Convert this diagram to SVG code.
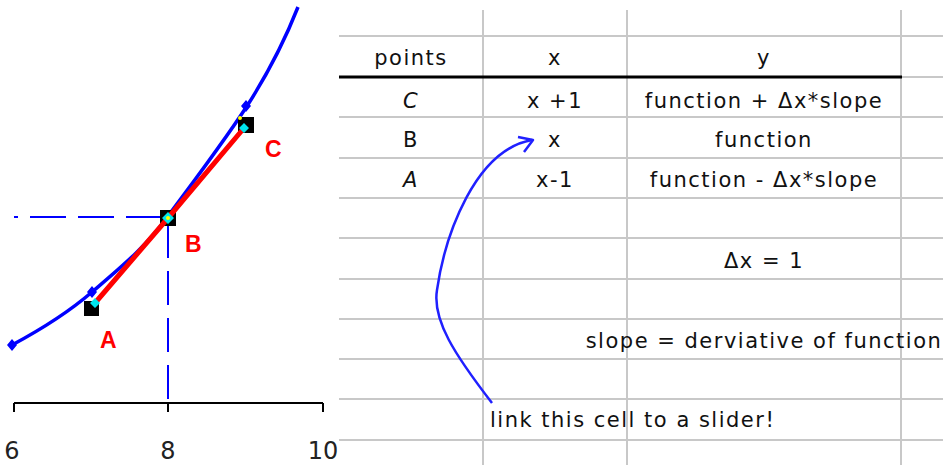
<svg xmlns="http://www.w3.org/2000/svg" width="943" height="465" viewBox="0 0 943 465">
<style>
.grid{stroke:#c8c8c8;stroke-width:2;fill:none}
.t{font-family:"DejaVu Sans",sans-serif;font-size:21px;letter-spacing:1.5px;fill:#111;text-anchor:middle}
.tick{font-family:"DejaVu Sans",sans-serif;font-size:24px;fill:#222;text-anchor:middle}
.pl{font-family:"Liberation Sans",Arial,sans-serif;font-size:23px;font-weight:bold;fill:#ff0000}
.dash{stroke:#0000ff;stroke-width:2;stroke-dasharray:36 12;fill:none}
.sq{fill:#000}
.cy{fill:#00e5ee}
</style>
<rect width="943" height="465" fill="#fff"/>
<g id="grid">
<path class="grid" d="M339 36H943M339 77H943M339 117H943M339 158H943M339 198H943M339 238H943M339 279H943M339 319H943M339 359H943M339 399H943M339 440H943"/>
<path class="grid" d="M483 10V465M627 10V465M901 10V465"/>
<line x1="339" y1="77" x2="902" y2="77" stroke="#000" stroke-width="3"/>
</g>
<g id="table-text">
<text class="t" x="411" y="65">points</text>
<text class="t" x="555" y="65">x</text>
<text class="t" x="764" y="65">y</text>
<text class="t" x="411" y="108" font-style="italic">C</text>
<text class="t" x="555" y="108">x +1</text>
<text class="t" x="764" y="108">function + Δx*slope</text>
<text class="t" x="411" y="147">B</text>
<text class="t" x="555" y="147">x</text>
<text class="t" x="764" y="147">function</text>
<text class="t" x="411" y="187" font-style="italic">A</text>
<text class="t" x="555" y="187">x-1</text>
<text class="t" x="764" y="187">function - Δx*slope</text>
<text class="t" x="764" y="268">Δx = 1</text>
<text class="t" x="764" y="348">slope = derviative of function</text>
<text class="t" x="490" y="427" style="text-anchor:start">link this cell to a slider!</text>
</g>
<g id="axis">
<path d="M14 403H323M14 403V412M168 403V412M323 403V412" stroke="#000" stroke-width="2" fill="none"/>
<text class="tick" x="12" y="459">6</text>
<text class="tick" x="168" y="459">8</text>
<text class="tick" x="323" y="459">10</text>
</g>
<g id="guides">
<line class="dash" x1="162" y1="217" x2="14" y2="217"/>
<line class="dash" x1="168" y1="224" x2="168" y2="403" style="stroke-dasharray:34 13"/>
</g>
<g id="curve">
<path d="M12 345C40 330 70 311 92 292C120 268 148 245 168 216C195 180 225 140 247 106C265 78 285 40 298 7" fill="none" stroke="#0000ff" stroke-width="3.5" stroke-linejoin="round"/>
<path d="M92 286L97 292L92 298L87 292ZM246 100L251 106L246 112L241 106ZM12 339L17 345L12 351L7 345Z" fill="#0000ff"/>
</g>
<g id="point-A">
<rect class="sq" x="84" y="301" width="15" height="15"/>
<text class="pl" x="100" y="348">A</text>
</g>
<g id="point-B">
<rect class="sq" x="160" y="210" width="16" height="16"/>
<text class="pl" x="185" y="252">B</text>
</g>
<g id="point-C">
<rect class="sq" x="238" y="117" width="16" height="16"/>
<text class="pl" x="265" y="157">C</text>
</g>
<g id="secant">
<polyline points="95,303 168,218 244,128" fill="none" stroke="#ff0000" stroke-width="5" stroke-linecap="round"/>
<path d="M95 298L100 303L95 308L90 303ZM168 212L174 218L168 224L162 218ZM244 123L249 128L244 133L239 128Z" class="cy"/>
<circle cx="168" cy="218" r="2" fill="#ffff00"/>
<circle cx="240" cy="118" r="2" fill="#ffff00"/>
</g>
<g id="connectors">
<path d="M492 403C455 355 432 320 437 290C445 235 475 150 532 140" fill="none" stroke="#2020ff" stroke-width="2.5"/>
<polyline points="518,137 533,140 524,152" fill="none" stroke="#2020ff" stroke-width="2.5" stroke-linejoin="round"/>
</g>
</svg>
